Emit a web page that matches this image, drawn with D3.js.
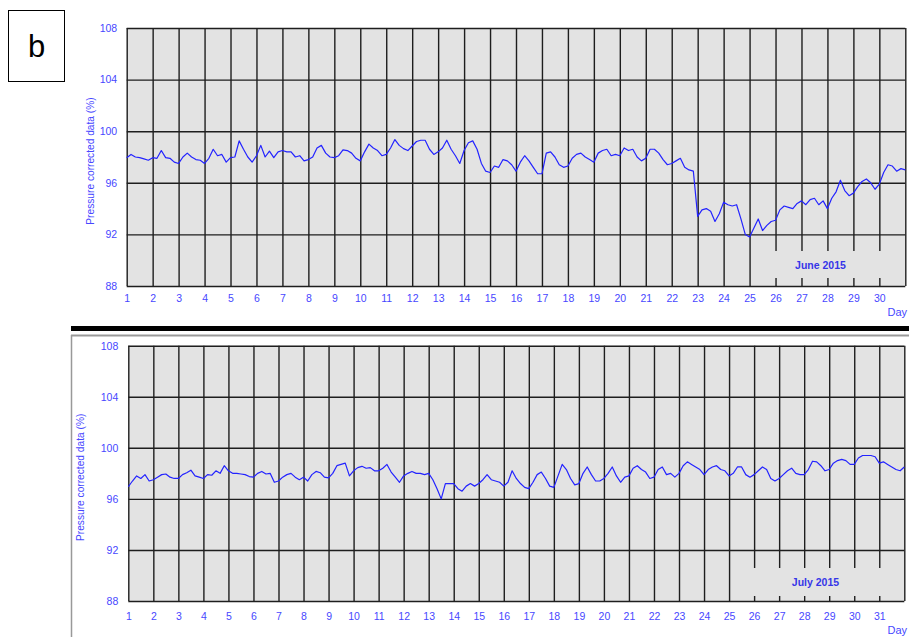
<!DOCTYPE html>
<html>
<head>
<meta charset="utf-8">
<script src="https://cdn.jsdelivr.net/npm/d3@7"></script>
<style>
  html, body { margin: 0; padding: 0; background: #fff; }
  svg { display: block; font-family: "Liberation Sans", Arial, sans-serif; }
</style>
</head>
<body>
<svg id="chart" width="909" height="637"></svg>
<script>
// ---- data, 6 samples per day starting at day 1 ----
const yTicks = [88, 92, 96, 100, 104, 108];
const juneDays = d3.range(1, 31);   // tick labels 1..30
const julyDays = d3.range(1, 32);   // tick labels 1..31
const SAMPLES_PER_DAY = 6;

const junePressure = [
  97.95, 98.2, 98.0, 97.95, 97.85, 97.75,
  97.95, 97.9, 98.5, 97.95, 97.9, 97.6,
  97.5, 98.0, 98.3, 98.0, 97.8, 97.75,
  97.5, 97.9, 98.6, 98.1, 98.2, 97.6,
  97.95, 98.0, 99.25, 98.6, 98.0, 97.6,
  98.1, 98.9, 98.0, 98.45, 97.95, 98.4,
  98.5, 98.4, 98.4, 98.0, 98.1, 97.7,
  97.8, 98.0, 98.7, 98.9, 98.3, 98.0,
  97.95, 98.1, 98.55, 98.5, 98.3, 97.9,
  97.7, 98.4, 99.0, 98.7, 98.5, 98.1,
  98.2, 98.7, 99.35, 98.9, 98.65, 98.5,
  98.85, 99.2, 99.3, 99.3, 98.6, 98.2,
  98.4, 98.7, 99.3, 98.6, 98.1, 97.5,
  98.5, 99.1, 99.25, 98.6, 97.5, 96.9,
  96.8, 97.3, 97.2, 97.8, 97.7, 97.4,
  96.9, 97.6, 98.1, 97.7, 97.2, 96.7,
  96.7, 98.3, 98.4, 98.0, 97.4, 97.2,
  97.3, 97.9, 98.2, 98.3, 98.0, 97.8,
  97.6, 98.3, 98.5, 98.6, 98.1, 98.2,
  98.1, 98.7, 98.5, 98.6, 98.0, 97.7,
  97.9, 98.6, 98.6, 98.3, 97.8, 97.4,
  97.5, 97.7, 97.9, 97.2, 97.0, 96.9,
  93.4, 93.9, 94.0, 93.8, 93.0, 93.6,
  94.5, 94.3, 94.2, 94.3, 93.2, 92.0,
  91.8, 92.5, 93.2, 92.3, 92.7, 93.0,
  93.1, 93.9, 94.2, 94.1, 94.0, 94.4,
  94.6, 94.3, 94.7, 94.8, 94.3, 94.6,
  94.0, 94.8, 95.3, 96.2, 95.4, 95.0,
  95.2, 95.7, 96.1, 96.3, 96.0, 95.5,
  95.9, 96.8, 97.4, 97.3, 96.9, 97.1,
  97.0
];

const julyPressure = [
  96.95, 97.4, 97.8, 97.6, 97.9, 97.4,
  97.5, 97.7, 97.9, 97.95, 97.7, 97.6,
  97.6, 97.9, 98.05, 98.25, 97.8, 97.7,
  97.6, 97.9, 97.85, 98.2, 98.0, 98.6,
  98.2, 98.0, 98.0, 97.95, 97.9, 97.75,
  97.7, 98.0, 98.15, 97.95, 98.0, 97.3,
  97.4, 97.7, 97.9, 98.0, 97.7, 97.5,
  97.7, 97.4, 97.9, 98.15, 98.05, 97.7,
  97.65, 98.0, 98.6, 98.7, 98.8, 97.8,
  98.2, 98.45, 98.55, 98.4, 98.45, 98.2,
  98.2, 98.4, 98.7, 98.1, 97.7, 97.3,
  97.8, 98.0, 98.15, 98.0, 98.0, 97.9,
  98.0, 97.5, 96.8, 96.0, 97.2, 97.2,
  97.2, 96.8, 96.6, 97.0, 97.2, 97.0,
  97.2, 97.5, 97.9, 97.5, 97.4, 97.3,
  97.0, 97.3, 98.2, 97.6, 97.2, 96.9,
  96.8, 97.3, 97.9, 98.1, 97.6, 97.0,
  96.9, 97.8, 98.7, 98.3, 97.6, 97.1,
  97.2, 98.0, 98.5, 97.9, 97.4, 97.4,
  97.6, 98.0, 98.5, 97.8, 97.3, 97.7,
  97.8, 98.4, 98.6, 98.3, 98.1, 97.6,
  97.7, 98.3, 98.5, 97.9, 98.0, 97.7,
  98.0, 98.6, 98.9, 98.7, 98.5, 98.3,
  97.9, 98.3, 98.5, 98.6, 98.3, 98.2,
  97.8, 98.0, 98.5, 98.5, 97.9, 97.7,
  97.9, 98.2, 98.5, 98.3, 97.6, 97.4,
  97.6, 97.9, 98.2, 98.4, 98.0, 97.9,
  97.9, 98.3, 98.95, 98.9, 98.6, 98.2,
  98.3, 98.8, 99.0, 99.1, 99.0, 98.7,
  98.7, 99.2, 99.4, 99.4, 99.4, 99.3,
  98.8, 98.9, 98.7, 98.5, 98.3, 98.2,
  98.5
];

// ---- layout ----
const BLUE_TEXT = '#4747ff', BLUE_LINE = '#2323ff', GRID = '#1e1e1e', BG = '#e3e3e3';

const panels = [
  { values: junePressure, days: juneDays, domain: [1, 31], left: 126.7, right: 905.3, top: 28, bottom: 286,
    xPad: 9, yPad: 9.5, ylabelX: 94, title: 'June 2015', box: { x0: 759, x1: 886, y0: 251, y1: 278 },
    dayY: 316 },
  { values: julyPressure, days: julyDays, domain: [1, 32], left: 128.3, right: 904.3, top: 345.7, bottom: 601,
    xPad: 12, yPad: 10, ylabelX: 84, title: 'July 2015', box: { x0: 742, x1: 893, y0: 568, y1: 596 },
    dayY: 634 }
];

const svg = d3.select('#chart');

// "b" panel tag
svg.append('rect').attr('x', 8.5).attr('y', 10.5).attr('width', 56).attr('height', 71)
  .attr('fill', '#fff').attr('stroke', '#000').attr('stroke-width', 1);
svg.append('text').attr('x', 36.5).attr('y', 57).attr('text-anchor', 'middle')
  .attr('font-size', 31).attr('fill', '#000').text('b');

// separator between the two screenshots
svg.append('line').attr('x1', 71).attr('x2', 909).attr('y1', 328.5).attr('y2', 328.5)
  .attr('stroke', '#000').attr('stroke-width', 5);
svg.append('line').attr('x1', 71).attr('x2', 909).attr('y1', 335.5).attr('y2', 335.5)
  .attr('stroke', '#999').attr('stroke-width', 2);
svg.append('line').attr('x1', 71.5).attr('x2', 71.5).attr('y1', 335).attr('y2', 637)
  .attr('stroke', '#999').attr('stroke-width', 1.5);

panels.forEach(p => {
  const x = d3.scaleLinear().domain(p.domain).range([p.left, p.right]);
  const y = d3.scaleLinear().domain([88, 108]).range([p.bottom, p.top]);
  const w = p.right - p.left, h = p.bottom - p.top;
  const g = svg.append('g');

  g.append('rect').attr('x', p.left).attr('y', p.top).attr('width', w).attr('height', h).attr('fill', BG);

  // vertical day grid
  g.append('g').attr('transform', `translate(0,${p.bottom})`)
    .call(d3.axisBottom(x).tickValues(d3.range(p.domain[0], p.domain[1] + 1)).tickSize(-h).tickFormat(''))
    .call(a => a.select('.domain').remove())
    .call(a => a.selectAll('line').attr('stroke', GRID).attr('stroke-width', 1.4));

  // horizontal grid
  g.append('g').attr('transform', `translate(${p.left},0)`)
    .call(d3.axisLeft(y).tickValues(yTicks).tickSize(-w).tickFormat(''))
    .call(a => a.select('.domain').remove())
    .call(a => a.selectAll('line').attr('stroke', GRID).attr('stroke-width', 1.4));

  // legend box covering the grid
  g.append('rect').attr('x', p.box.x0).attr('y', p.box.y0)
    .attr('width', p.box.x1 - p.box.x0).attr('height', p.box.y1 - p.box.y0).attr('fill', BG);
  g.append('text').attr('x', (p.box.x0 + p.box.x1) / 2 - 2).attr('y', (p.box.y0 + p.box.y1) / 2 + 4)
    .attr('text-anchor', 'middle').attr('font-size', 10.5).attr('font-weight', 'bold')
    .attr('fill', '#3636e8').text(p.title);

  // data
  const line = d3.line()
    .x((d, i) => x(p.domain[0] + i / SAMPLES_PER_DAY))
    .y(d => y(d));
  g.append('path').datum(p.values).attr('d', line)
    .attr('fill', 'none').attr('stroke', BLUE_LINE).attr('stroke-width', 1.2)
    .attr('stroke-linejoin', 'round');

  // x tick labels
  g.append('g').attr('transform', `translate(0,${p.bottom})`)
    .call(d3.axisBottom(x).tickValues(p.days).tickSize(0).tickPadding(p.xPad).tickFormat(d3.format('d')))
    .call(a => a.select('.domain').remove())
    .call(a => a.selectAll('text').attr('fill', BLUE_TEXT).attr('font-size', 10.5)
      .attr('font-family', '"Liberation Sans", Arial, sans-serif'));

  // y tick labels
  g.append('g').attr('transform', `translate(${p.left},0)`)
    .call(d3.axisLeft(y).tickValues(yTicks).tickSize(0).tickPadding(p.yPad))
    .call(a => a.select('.domain').remove())
    .call(a => a.selectAll('text').attr('fill', BLUE_TEXT).attr('font-size', 10.5)
      .attr('font-family', '"Liberation Sans", Arial, sans-serif'));

  // y title
  g.append('text').attr('transform', `translate(${p.ylabelX},${(p.top + p.bottom) / 2 + 4}) rotate(-90)`)
    .attr('text-anchor', 'middle').attr('font-size', 10.2).attr('fill', BLUE_TEXT)
    .text('Pressure corrected data (%)');

  // "Day" label at the right edge
  g.append('text').attr('x', 907).attr('y', p.dayY).attr('text-anchor', 'end').attr('font-size', 11)
    .attr('fill', BLUE_TEXT).text('Day');
});
</script>
</body>
</html>
